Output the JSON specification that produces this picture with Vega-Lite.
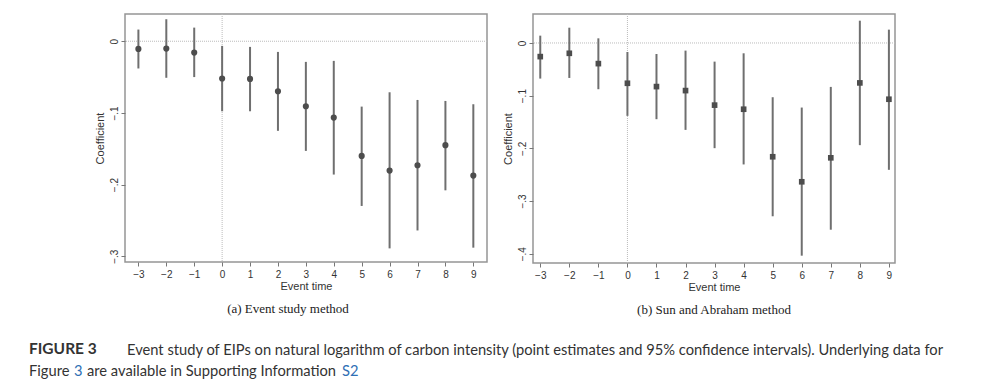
{
  "$schema": "https://vega.github.io/schema/vega-lite/v6.json",
  "padding": {"left": 29, "top": 12, "right": 10, "bottom": 0},
  "background": "white",
  "datasets": {
    "a": [
      {"t": -3, "coef": -0.0107, "lo": -0.038, "hi": 0.0163},
      {"t": -2, "coef": -0.0102, "lo": -0.051, "hi": 0.0307},
      {"t": -1, "coef": -0.0158, "lo": -0.050, "hi": 0.019},
      {"t": 0, "coef": -0.052, "lo": -0.0977, "hi": -0.0065},
      {"t": 1, "coef": -0.0526, "lo": -0.0977, "hi": -0.0079},
      {"t": 2, "coef": -0.0698, "lo": -0.125, "hi": -0.0149},
      {"t": 3, "coef": -0.0907, "lo": -0.153, "hi": -0.0288},
      {"t": 4, "coef": -0.1065, "lo": -0.186, "hi": -0.0274},
      {"t": 5, "coef": -0.160, "lo": -0.2298, "hi": -0.0912},
      {"t": 6, "coef": -0.1805, "lo": -0.289, "hi": -0.0712},
      {"t": 7, "coef": -0.173, "lo": -0.264, "hi": -0.0819},
      {"t": 8, "coef": -0.145, "lo": -0.208, "hi": -0.0833},
      {"t": 9, "coef": -0.1874, "lo": -0.288, "hi": -0.0879}
    ],
    "b": [
      {"t": -3, "coef": -0.0259, "lo": -0.0676, "hi": 0.0139},
      {"t": -2, "coef": -0.0196, "lo": -0.0664, "hi": 0.029},
      {"t": -1, "coef": -0.0392, "lo": -0.0878, "hi": 0.0088},
      {"t": 0, "coef": -0.0765, "lo": -0.1384, "hi": -0.0171},
      {"t": 1, "coef": -0.0828, "lo": -0.1447, "hi": -0.0209},
      {"t": 2, "coef": -0.0904, "lo": -0.165, "hi": -0.0145},
      {"t": 3, "coef": -0.118, "lo": -0.1997, "hi": -0.0354},
      {"t": 4, "coef": -0.1258, "lo": -0.2306, "hi": -0.0196},
      {"t": 5, "coef": -0.216, "lo": -0.329, "hi": -0.103},
      {"t": 6, "coef": -0.2635, "lo": -0.4038, "hi": -0.1226},
      {"t": 7, "coef": -0.218, "lo": -0.3545, "hi": -0.0834},
      {"t": 8, "coef": -0.0758, "lo": -0.194, "hi": 0.0423},
      {"t": 9, "coef": -0.1068, "lo": -0.2408, "hi": 0.0253}
    ],
    "ref": [{"v": 0}],
    "blank": [{}]
  },
  "bounds": "flush",
  "spacing": 361,
  "vconcat": [
    {
      "bounds": "flush",
      "spacing": 46,
      "hconcat": [
        {
          "width": 362,
          "height": 248,
          "view": {"stroke": "#959595", "strokeWidth": 1.5},
          "title": {"text": "(a) Event study method", "orient": "bottom", "font": "Liberation Serif", "fontSize": 13, "fontWeight": "normal", "color": "#222222", "anchor": "middle", "dx": -18, "offset": 12},
          "layer": [
            {
              "data": {"name": "ref"},
              "mark": {"type": "rule", "color": "#bbbbbb", "strokeDash": [1, 1], "strokeWidth": 1},
              "encoding": {"y": {"field": "v", "type": "quantitative", "scale": {"domain": [-0.308, 0.038]}}}
            },
            {
              "data": {"name": "ref"},
              "mark": {"type": "rule", "color": "#bbbbbb", "strokeDash": [1, 1], "strokeWidth": 1},
              "encoding": {"x": {"field": "v", "type": "quantitative", "scale": {"domain": [-3.48, 9.49]}}}
            },
            {
              "data": {"name": "a"},
              "mark": {"type": "rule", "color": "#6f6f6f", "strokeWidth": 2},
              "encoding": {
                "x": {"field": "t", "type": "quantitative", "scale": {"domain": [-3.48, 9.49], "nice": false, "zero": false},
                  "axis": {"values": [-3,-2,-1,0,1,2,3,4,5,6,7,8,9], "tickCount": 20, "format": "d", "labelOverlap": false, "title": "Event time"}},
                "y": {"field": "lo", "type": "quantitative", "scale": {"domain": [-0.308, 0.038], "nice": false, "zero": false},
                  "axis": {"values": [0, -0.1, -0.2, -0.3], "tickCount": 10, "labelOverlap": false, "labelExpr": "datum.value == 0 ? '0' : replace(format(datum.value, '.1f'), '0.', '.')", "title": "Coefficient", "labelAngle": -90, "labelPadding": 2, "titlePadding": 4}},
                "y2": {"field": "hi"}
              }
            },
            {
              "data": {"name": "a"},
              "mark": {"type": "point", "shape": "circle", "filled": true, "color": "#4d4d4d", "opacity": 1, "size": 38},
              "encoding": {
                "x": {"field": "t", "type": "quantitative"},
                "y": {"field": "coef", "type": "quantitative"}
              }
            }
          ]
        },
        {
          "width": 362,
          "height": 249,
          "view": {"stroke": "#959595", "strokeWidth": 1.5},
          "title": {"text": "(b) Sun and Abraham method", "orient": "bottom", "font": "Liberation Serif", "fontSize": 13, "fontWeight": "normal", "color": "#222222", "anchor": "middle", "dx": 0, "offset": 12},
          "layer": [
            {
              "data": {"name": "ref"},
              "mark": {"type": "rule", "color": "#bbbbbb", "strokeDash": [1, 1], "strokeWidth": 1},
              "encoding": {"y": {"field": "v", "type": "quantitative", "scale": {"domain": [-0.4177, 0.055]}}}
            },
            {
              "data": {"name": "ref"},
              "mark": {"type": "rule", "color": "#bbbbbb", "strokeDash": [1, 1], "strokeWidth": 1},
              "encoding": {"x": {"field": "v", "type": "quantitative", "scale": {"domain": [-3.25, 9.21]}}}
            },
            {
              "data": {"name": "b"},
              "mark": {"type": "rule", "color": "#6f6f6f", "strokeWidth": 2},
              "encoding": {
                "x": {"field": "t", "type": "quantitative", "scale": {"domain": [-3.25, 9.21], "nice": false, "zero": false},
                  "axis": {"values": [-3,-2,-1,0,1,2,3,4,5,6,7,8,9], "tickCount": 20, "format": "d", "labelOverlap": false, "title": "Event time"}},
                "y": {"field": "lo", "type": "quantitative", "scale": {"domain": [-0.4177, 0.055], "nice": false, "zero": false},
                  "axis": {"values": [0, -0.1, -0.2, -0.3, -0.4], "tickCount": 10, "labelOverlap": false, "labelExpr": "datum.value == 0 ? '0' : replace(format(datum.value, '.1f'), '0.', '.')", "title": "Coefficient", "labelAngle": -90, "labelPadding": 2, "titlePadding": 4}},
                "y2": {"field": "hi"}
              }
            },
            {
              "data": {"name": "b"},
              "mark": {"type": "point", "shape": "square", "filled": true, "color": "#4d4d4d", "opacity": 1, "size": 32},
              "encoding": {
                "x": {"field": "t", "type": "quantitative"},
                "y": {"field": "coef", "type": "quantitative"}
              }
            }
          ]
        }
      ]
    },
    {
      "bounds": "flush",
      "spacing": 21,
      "vconcat": [
        {
          "bounds": "flush",
          "spacing": 0,
          "hconcat": [
            {
              "width": 97, "height": 1,
              "data": {"name": "blank"},
              "mark": {"type": "text", "text": ""},
              "encoding": {},
              "title": {"text": "FIGURE 3", "orient": "top", "anchor": "start", "font": "Lato", "fontSize": 15.5, "fontWeight": "bold", "color": "#333333", "baseline": "alphabetic", "offset": 0, "dx": -96}
            },
            {
              "width": 1, "height": 1,
              "data": {"name": "blank"},
              "mark": {"type": "text", "text": ""},
              "encoding": {},
              "title": {"text": "Event study of EIPs on natural logarithm of carbon intensity (point estimates and 95% confidence intervals). Underlying data for", "orient": "top", "anchor": "start", "font": "Lato", "fontSize": 14.7, "fontWeight": "normal", "color": "#333333", "baseline": "alphabetic", "offset": 0, "dx": -95}
            }
          ]
        },
        {
          "bounds": "flush",
          "spacing": 0,
          "hconcat": [
            {
              "width": 44, "height": 1,
              "data": {"name": "blank"},
              "mark": {"type": "text", "text": ""},
              "encoding": {},
              "title": {"text": "Figure", "orient": "top", "anchor": "start", "font": "Lato", "fontSize": 14.7, "fontWeight": "normal", "color": "#333333", "baseline": "alphabetic", "offset": 0, "dx": -96}
            },
            {
              "width": 13, "height": 1,
              "data": {"name": "blank"},
              "mark": {"type": "text", "text": ""},
              "encoding": {},
              "title": {"text": "3", "orient": "top", "anchor": "start", "font": "Lato", "fontSize": 14.7, "fontWeight": "normal", "color": "#2f6fb5", "baseline": "alphabetic", "offset": 0, "dx": -95}
            },
            {
              "width": 255, "height": 1,
              "data": {"name": "blank"},
              "mark": {"type": "text", "text": ""},
              "encoding": {},
              "title": {"text": "are available in Supporting Information", "orient": "top", "anchor": "start", "font": "Lato", "fontSize": 14.7, "fontWeight": "normal", "color": "#333333", "baseline": "alphabetic", "offset": 0, "dx": -95}
            },
            {
              "width": 1, "height": 1,
              "data": {"name": "blank"},
              "mark": {"type": "text", "text": ""},
              "encoding": {},
              "title": {"text": "S2", "orient": "top", "anchor": "start", "font": "Lato", "fontSize": 14.7, "fontWeight": "normal", "color": "#2f6fb5", "baseline": "alphabetic", "offset": 0, "dx": -95}
            }
          ]
        }
      ]
    }
  ],
  "config": {
    "view": {"stroke": null},
    "axis": {
      "labelOverlap": false,
      "domain": false,
      "grid": false,
      "tickColor": "#777777",
      "tickSize": 4,
      "labelFontSize": 10,
      "labelFont": "Liberation Sans",
      "labelColor": "#333333",
      "titleFont": "Liberation Sans",
      "titleFontSize": 11,
      "titleFontWeight": "normal",
      "titleColor": "#333333"
    },
    "axisX": {"labelPadding": 3, "titlePadding": 1}
  }
}
